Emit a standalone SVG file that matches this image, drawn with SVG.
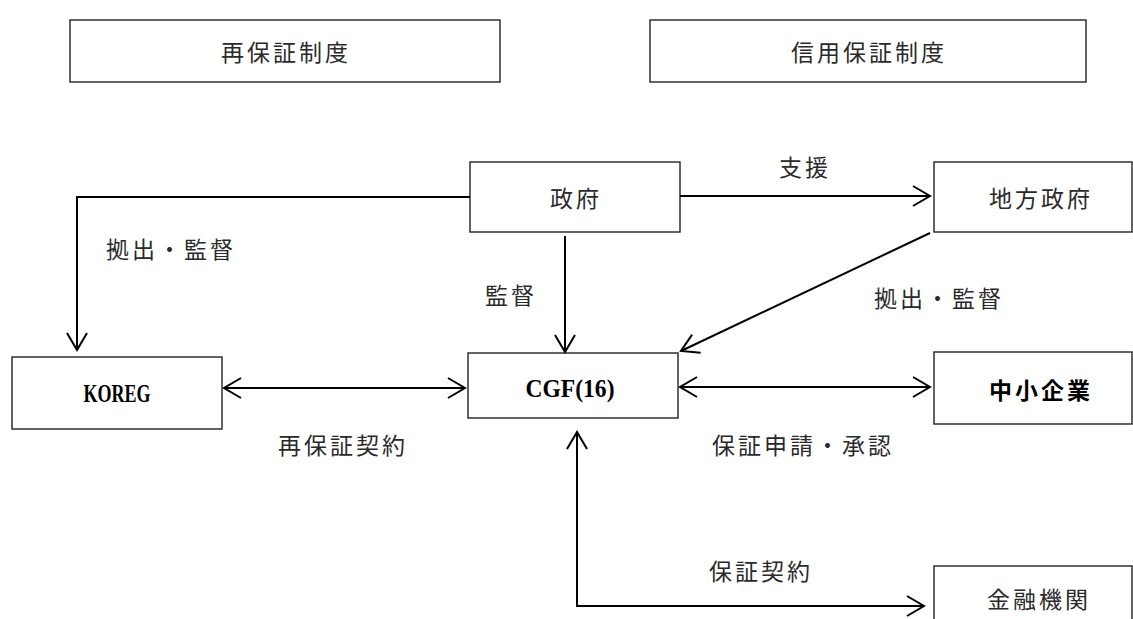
<svg xmlns="http://www.w3.org/2000/svg" width="1133" height="619" viewBox="0 0 1133 619">
<style>
.box{fill:#fff;stroke:#222;stroke-width:1.4}
.jp{font-family:"Noto Sans CJK JP","Noto Sans CJK SC",sans-serif;font-size:23px;letter-spacing:3px;fill:#2a2a2a;text-anchor:middle;dominant-baseline:central}
.jpb{font-weight:bold;fill:#000}
.lat{font-family:"Liberation Serif",serif;font-weight:bold;font-size:26px;fill:#000;text-anchor:middle;dominant-baseline:central}
.con{fill:none;stroke:#000;stroke-width:2}
</style>
<defs>
<marker id="ah" markerUnits="userSpaceOnUse" markerWidth="30" markerHeight="30" viewBox="-20 -15 25 30" refX="0" refY="0" orient="auto-start-reverse">
<path d="M-17,-10 L0,0 L-17,10" fill="none" stroke="#000" stroke-width="2"/>
</marker>
</defs>
<g id="title-reguarantee"><rect class="box" x="70" y="20" width="430" height="62"/><text class="jp" x="286" y="51">再保証制度</text></g>
<g id="title-creditguarantee"><rect class="box" x="650" y="20" width="436" height="62"/><text class="jp" x="869" y="51">信用保証制度</text></g>
<g id="government"><rect class="box" x="470" y="162" width="210" height="70"/><text class="jp" x="576" y="197">政府</text></g>
<g id="localgov"><rect class="box" x="934" y="162" width="198" height="70"/><text class="jp" x="1041" y="197">地方政府</text></g>
<g id="koreg"><rect class="box" x="12" y="357" width="210" height="72"/><text class="lat" x="117" y="393" textLength="67" lengthAdjust="spacingAndGlyphs">KOREG</text></g>
<g id="cgf"><rect class="box" x="468" y="353" width="210" height="65"/><text class="lat" x="570" y="388" textLength="89" lengthAdjust="spacingAndGlyphs">CGF(16)</text></g>
<g id="sme"><rect class="box" x="934" y="352" width="198" height="72"/><text class="jp jpb" x="1041" y="389">中小企業</text></g>
<g id="bank"><rect class="box" x="934" y="566" width="198" height="60"/><text class="jp" x="1039" y="598">金融機関</text></g>
<g id="connectors">
<polyline class="con" points="470,197 77,197 77,350" marker-end="url(#ah)"/>
<line class="con" x1="680" y1="196" x2="930" y2="196" marker-end="url(#ah)"/>
<line class="con" x1="565" y1="236" x2="565" y2="352" marker-end="url(#ah)"/>
<line class="con" x1="930" y1="233" x2="681" y2="351" marker-end="url(#ah)"/>
<line class="con" x1="224" y1="388" x2="465" y2="388" marker-start="url(#ah)" marker-end="url(#ah)"/>
<line class="con" x1="680" y1="387" x2="930" y2="387" marker-start="url(#ah)" marker-end="url(#ah)"/>
<polyline class="con" points="577,432 577,606 924,606" marker-start="url(#ah)" marker-end="url(#ah)"/>
</g>
<g id="labels">
<text class="jp" x="805" y="166">支援</text>
<text class="jp" x="171" y="248">拠出・監督</text>
<text class="jp" x="511" y="294">監督</text>
<text class="jp" x="939" y="297">拠出・監督</text>
<text class="jp" x="343" y="444">再保証契約</text>
<text class="jp" x="803" y="444">保証申請・承認</text>
<text class="jp" x="761" y="570">保証契約</text>
</g>
</svg>
